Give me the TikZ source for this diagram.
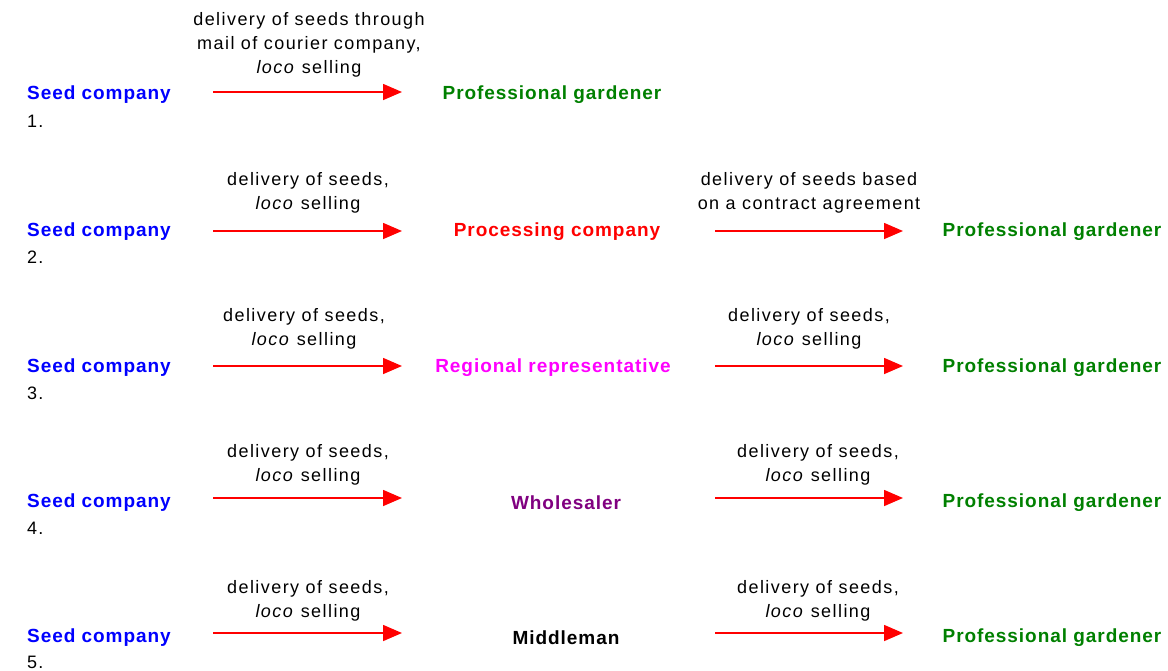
\documentclass[tikz,border=0pt]{standalone}
\usepackage{fontspec}
\setmainfont{Liberation Sans}
\usetikzlibrary{arrows.meta}
\definecolor{cblue}{HTML}{0000FF}
\definecolor{cgreen}{HTML}{008000}
\definecolor{cred}{HTML}{FF0000}
\definecolor{cmag}{HTML}{FF00FF}
\definecolor{cpurp}{HTML}{800080}
\tikzset{
  ent/.style={inner sep=0pt, yshift=-3pt, font=\fontsize{19}{23}\selectfont\bfseries\addfontfeature{LetterSpace=5}},
  num/.style={inner sep=0pt, anchor=west, font=\fontsize{18}{23}\selectfont\addfontfeature{LetterSpace=6}},
  lab/.style={inner sep=0pt, align=center, font=\fontsize{18}{24}\selectfont\addfontfeature{LetterSpace=8}},
  flow/.style={draw=cred, line width=1.6pt, -{Triangle[length=19pt,width=16pt]}, fill=cred}
}
\begin{document}
\begin{tikzpicture}[x=1pt,y=-1pt]
\useasboundingbox (0,0) rectangle (1168,670);
% Row 1
\node[ent, text=cblue, anchor=west] (s1) at (27,92) {Seed company};
\node[num] (n1) at (27,121) {1.};
\coordinate (a1s) at (213,92); \coordinate (a1e) at (402,92);
\draw[flow] (a1s) -- (a1e);
\node[lab] (l1) at (309,45) {delivery of seeds through\\mail of courier company,\\\textit{loco} selling};
\node[ent, text=cgreen] (g1) at (552,92) {Professional gardener};
% Row 2
\node[ent, text=cblue, anchor=west] (s2) at (27,229) {Seed company};
\node[num] (n2) at (27,257) {2.};
\coordinate (a2s) at (213,231); \coordinate (a2e) at (402,231);
\draw[flow] (a2s) -- (a2e);
\node[lab] (l2) at (308,193) {delivery of seeds,\\\textit{loco} selling};
\node[ent, text=cred] (p2) at (557,229) {Processing company};
\coordinate (b2s) at (715,231); \coordinate (b2e) at (903,231);
\draw[flow] (b2s) -- (b2e);
\node[lab] (m2) at (809,193) {delivery of seeds based\\on a contract agreement};
\node[ent, text=cgreen] (g2) at (1052,229) {Professional gardener};
% Row 3
\node[ent, text=cblue, anchor=west] (s3) at (27,365) {Seed company};
\node[num] (n3) at (27,393) {3.};
\coordinate (a3s) at (213,366); \coordinate (a3e) at (402,366);
\draw[flow] (a3s) -- (a3e);
\node[lab] (l3) at (304,329) {delivery of seeds,\\\textit{loco} selling};
\node[ent, text=cmag] (p3) at (553,365) {Regional representative};
\coordinate (b3s) at (715,366); \coordinate (b3e) at (903,366);
\draw[flow] (b3s) -- (b3e);
\node[lab] (m3) at (809,329) {delivery of seeds,\\\textit{loco} selling};
\node[ent, text=cgreen] (g3) at (1052,365) {Professional gardener};
% Row 4
\node[ent, text=cblue, anchor=west] (s4) at (27,500) {Seed company};
\node[num] (n4) at (27,528) {4.};
\coordinate (a4s) at (213,498); \coordinate (a4e) at (402,498);
\draw[flow] (a4s) -- (a4e);
\node[lab] (l4) at (308,465) {delivery of seeds,\\\textit{loco} selling};
\node[ent, text=cpurp] (p4) at (566,500) {Wholesaler};
\coordinate (b4s) at (715,498); \coordinate (b4e) at (903,498);
\draw[flow] (b4s) -- (b4e);
\node[lab] (m4) at (818,465) {delivery of seeds,\\\textit{loco} selling};
\node[ent, text=cgreen] (g4) at (1052,500) {Professional gardener};
% Row 5
\node[ent, text=cblue, anchor=west] (s5) at (27,635) {Seed company};
\node[num] (n5) at (27,662) {5.};
\coordinate (a5s) at (213,633); \coordinate (a5e) at (402,633);
\draw[flow] (a5s) -- (a5e);
\node[lab] (l5) at (308,601) {delivery of seeds,\\\textit{loco} selling};
\node[ent, text=black] (p5) at (566,635) {Middleman};
\coordinate (b5s) at (715,633); \coordinate (b5e) at (903,633);
\draw[flow] (b5s) -- (b5e);
\node[lab] (m5) at (818,601) {delivery of seeds,\\\textit{loco} selling};
\node[ent, text=cgreen] (g5) at (1052,635) {Professional gardener};
\end{tikzpicture}
\end{document}
